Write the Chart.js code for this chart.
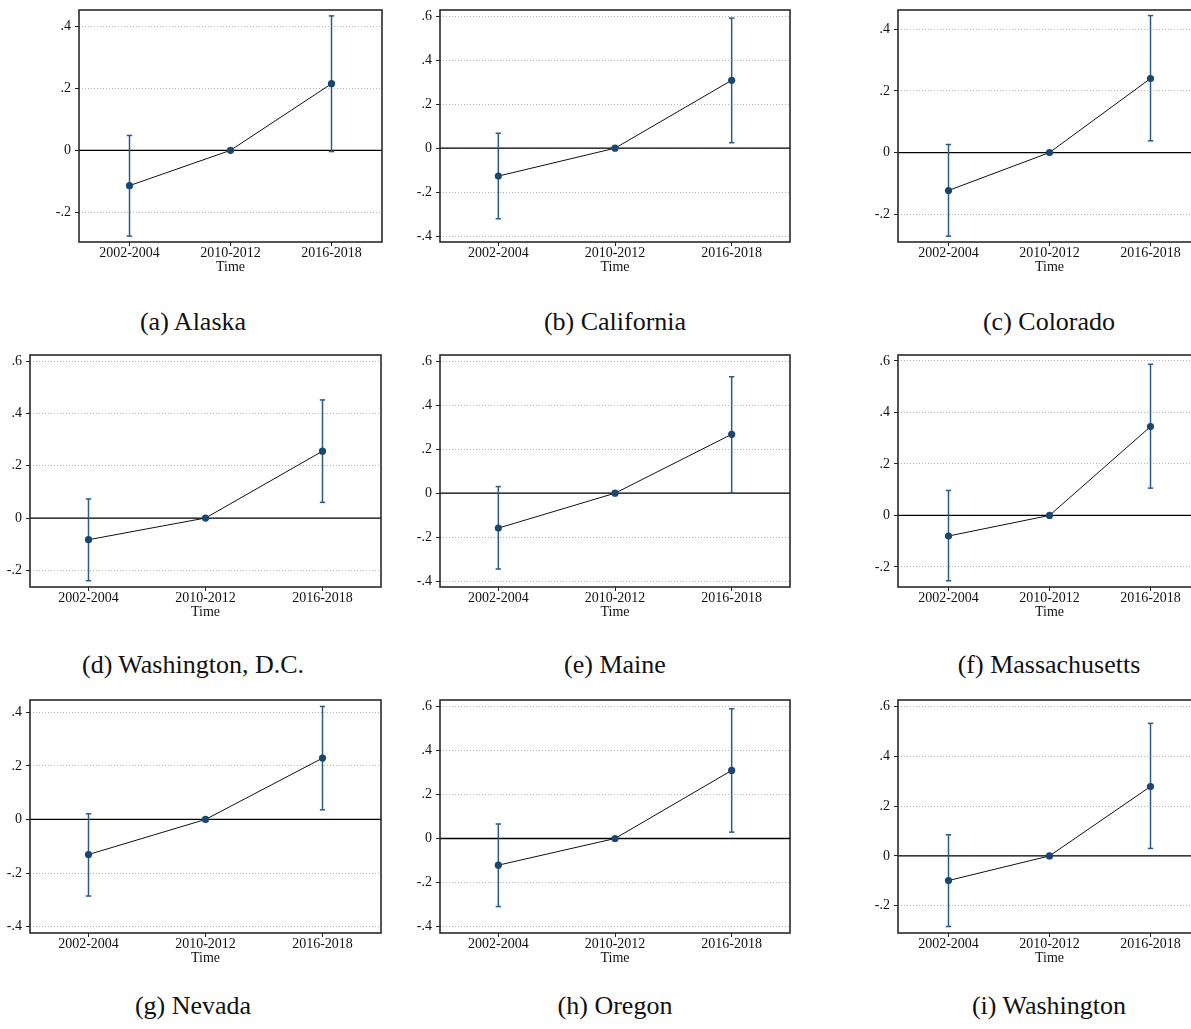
<!DOCTYPE html>
<html lang="en">
<head>
<meta charset="UTF-8">
<title>Event study estimates by state</title>
<script src="https://cdn.jsdelivr.net/npm/chart.js@4.4.0/dist/chart.umd.min.js"></script>
<style>
    html, body { margin: 0; padding: 0; overflow: hidden; background: #fff; }
    #page { position: relative; width: 1191px; height: 1029px; overflow: hidden; }
    #page canvas { position: absolute; }
    .cap {
        position: absolute; transform: translate(-50%, -50%);
        font-family: 'Liberation Serif', 'Times New Roman', serif;
        font-size: 26px; white-space: nowrap; color: #111;
    }
</style>
</head>
<body>
<div id="page"></div>
<script>
// periods on the x axis
const periods = ['2002-2004', '2010-2012', '2016-2018'];

// one entry per panel, (a) .. (i)
const captions = ['(a) Alaska', '(b) California', '(c) Colorado',
                  '(d) Washington, D.C.', '(e) Maine', '(f) Massachusetts',
                  '(g) Nevada', '(h) Oregon', '(i) Washington'];

const coefs = [
    [-0.114, 0, 0.215], [-0.127, 0, 0.309], [-0.123, 0, 0.240],
    [-0.083, 0, 0.256], [-0.159, 0, 0.268], [-0.080, 0, 0.345],
    [-0.131, 0, 0.229], [-0.121, 0, 0.309], [-0.099, 0, 0.279]
];
const ciLow = [
    [-0.277, 0, -0.004], [-0.321, 0, 0.025], [-0.271, 0, 0.038],
    [-0.240, 0, 0.060], [-0.345, 0, 0.001], [-0.254, 0, 0.106],
    [-0.286, 0, 0.036], [-0.309, 0, 0.029], [-0.284, 0, 0.030]
];
const ciHigh = [
    [0.048, 0, 0.434], [0.068, 0, 0.592], [0.026, 0, 0.444],
    [0.073, 0, 0.452], [0.030, 0, 0.530], [0.097, 0, 0.587],
    [0.021, 0, 0.422], [0.066, 0, 0.589], [0.085, 0, 0.533]
];

// y axis ranges and ticks
const yMins = [-0.296, -0.427, -0.290, -0.264, -0.427, -0.278, -0.424, -0.429, -0.310];
const yMaxs = [0.453, 0.629, 0.462, 0.624, 0.629, 0.623, 0.446, 0.629, 0.627];
const yTicks = [
    [-0.2, 0, 0.2, 0.4], [-0.4, -0.2, 0, 0.2, 0.4, 0.6], [-0.2, 0, 0.2, 0.4],
    [-0.2, 0, 0.2, 0.4, 0.6], [-0.4, -0.2, 0, 0.2, 0.4, 0.6], [-0.2, 0, 0.2, 0.4, 0.6],
    [-0.4, -0.2, 0, 0.2, 0.4], [-0.4, -0.2, 0, 0.2, 0.4, 0.6], [-0.2, 0, 0.2, 0.4, 0.6]
];
const tickValues = [-0.4, -0.2, 0, 0.2, 0.4, 0.6];
const tickTexts = ['-.4', '-.2', '0', '.2', '.4', '.6'];

// plot area boxes [left, top, width, height] in page pixels
const plotBoxes = [
    [79, 10, 303, 232], [440, 10, 350, 232], [898, 10, 303, 232],
    [30, 355, 351, 232], [440, 355, 350, 232], [898, 355, 303, 232],
    [30, 700, 351, 233], [440, 700, 350, 233], [898, 700, 303, 233]
];
const captionX = [193, 615, 1049];
const captionY = [322, 665, 1006];

const NAVY = '#1a476f';
const BAR = '#2d5a86';
const SERIF = "'Liberation Serif', 'Times New Roman', serif";
const PAD_L = 50, PAD_T = 6, PAD_R = 6, PAD_B = 46;

Chart.defaults.font.family = SERIF;
Chart.defaults.color = '#111';

// box around the plot region
const frame = {
    id: 'frame',
    afterDraw(chart) {
        const a = chart.chartArea, c = chart.ctx;
        c.save();
        c.strokeStyle = '#2a2a2a';
        c.lineWidth = 1.6;
        c.strokeRect(a.left, a.top, a.right - a.left, a.bottom - a.top);
        c.restore();
    }
};

function tickText(v) {
    const i = tickValues.findIndex(t => Math.abs(t - v) < 1e-6);
    return i >= 0 ? tickTexts[i] : '';
}

const page = document.getElementById('page');

captions.forEach((cap, p) => {
    const [left, top, w, h] = plotBoxes[p];
    const canvas = document.createElement('canvas');
    const cw = w + PAD_L + PAD_R, ch = h + PAD_T + PAD_B;
    canvas.width = cw; canvas.height = ch;
    canvas.style.width = cw + 'px'; canvas.style.height = ch + 'px';
    canvas.style.left = (left - PAD_L) + 'px';
    canvas.style.top = (top - PAD_T) + 'px';
    page.appendChild(canvas);

    const datasets = [];
    // estimates joined by a line
    datasets.push({
        data: coefs[p].map((v, i) => ({ x: i + 1, y: v })),
        showLine: true, borderColor: '#111', borderWidth: 1,
        pointRadius: 3.6, pointBackgroundColor: NAVY, pointBorderColor: NAVY,
        pointBorderWidth: 0, order: 0
    });
    // confidence intervals with caps
    coefs[p].forEach((v, i) => {
        if (ciLow[p][i] === ciHigh[p][i]) return;
        datasets.push({
            data: [{ x: i + 1, y: ciLow[p][i] }, { x: i + 1, y: ciHigh[p][i] }],
            showLine: true, borderColor: BAR, borderWidth: 1.5,
            pointStyle: 'line', pointRadius: 2.7, pointBorderColor: BAR,
            pointBorderWidth: 1.5, order: 1
        });
    });
    // reference line at zero
    datasets.push({
        data: [{ x: 0.5, y: 0 }, { x: 3.5, y: 0 }],
        showLine: true, borderColor: '#000', borderWidth: 1.3,
        pointRadius: 0, order: 2
    });

    new Chart(canvas, {
        type: 'scatter',
        data: { datasets },
        plugins: [frame],
        options: {
            responsive: false, animation: false, events: [],
            layout: { padding: { top: PAD_T, right: PAD_R, left: 0, bottom: 0 } },
            plugins: { legend: { display: false }, tooltip: { enabled: false } },
            scales: {
                x: {
                    type: 'linear', min: 0.5, max: 3.5,
                    afterBuildTicks: s => { s.ticks = periods.map((_, i) => ({ value: i + 1 })); },
                    afterFit: s => { s.height = PAD_B; s.paddingLeft = 0; s.paddingRight = 0; },
                    grid: { drawOnChartArea: false, drawTicks: true, tickLength: 4, tickColor: '#222', tickWidth: 1 },
                    border: { display: false },
                    ticks: {
                        padding: -1, maxRotation: 0, autoSkip: false,
                        font: { size: 14, family: SERIF }, color: '#111',
                        callback: v => periods[Math.round(v) - 1] || ''
                    },
                    title: {
                        display: true, text: 'Time', color: '#111',
                        font: { size: 14, family: SERIF }, padding: { top: 0, bottom: 12 }
                    }
                },
                y: {
                    min: yMins[p], max: yMaxs[p],
                    afterBuildTicks: s => { s.ticks = yTicks[p].map(v => ({ value: v })); },
                    afterFit: s => { s.width = PAD_L; s.paddingTop = 0; s.paddingBottom = 0; },
                    grid: {
                        color: '#b5b5b5', lineWidth: 1, drawTicks: true, tickLength: 4,
                        tickColor: '#222', tickWidth: 1, tickBorderDash: []
                    },
                    border: { display: false, dash: [1, 2] },
                    ticks: {
                        padding: 4, autoSkip: false,
                        font: { size: 14, family: SERIF }, color: '#111',
                        callback: v => tickText(v)
                    }
                }
            }
        }
    });

    const lab = document.createElement('div');
    lab.className = 'cap';
    lab.textContent = cap;
    lab.style.left = captionX[p % 3] + 'px';
    lab.style.top = captionY[Math.floor(p / 3)] + 'px';
    page.appendChild(lab);
});
</script>
</body>
</html>
